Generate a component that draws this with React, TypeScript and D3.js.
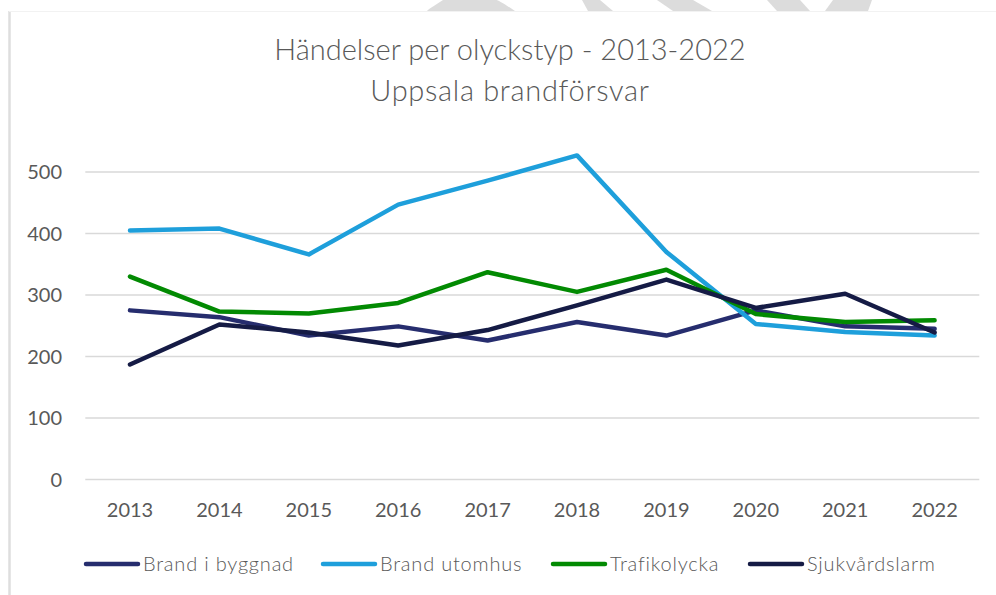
import React from "react";
import * as d3 from "d3";

const years = ["2013", "2014", "2015", "2016", "2017", "2018", "2019", "2020", "2021", "2022"];
const brandIByggnad = [275, 264, 234, 249, 226, 256, 234, 275, 249, 245];
const brandUtomhus = [405, 408, 366, 447, 486, 527, 370, 253, 240, 234];
const trafikolycka = [330, 273, 270, 287, 337, 305, 341, 269, 256, 259];
const sjukvardslarm = [187, 252, 239, 218, 243, 283, 325, 279, 302, 239];
const yTicks = [0, 100, 200, 300, 400, 500];

const seriesNames = ["Brand i byggnad", "Brand utomhus", "Trafikolycka", "Sjukvårdslarm"];
const seriesColors = ["#262D6E", "#1E9FDB", "#028A02", "#151B45"];
const seriesValues = [brandIByggnad, brandUtomhus, trafikolycka, sjukvardslarm];

const W = 996;
const H = 595;
const FONT = "Lato, 'Open Sans', sans-serif";
const TEXT = "#595959";

export default function App() {
  const x = d3.scaleBand<string>().domain(years).range([85.3, 979.3]);
  const y = d3.scaleLinear().domain([0, 500]).range([479.5, 172]);
  const line = d3
    .line<number>()
    .x((_, i) => (x(years[i]) as number) + x.bandwidth() / 2)
    .y((d) => y(d));

  const legendX = [84, 321, 551, 748];

  const deco = [
    "M427,11 L515,11 C505,4 497,0 497,0 L443,0 C437,4 430,8 427,11 Z",
    "M582,0 L600,0 L613,11 L588,11 Z",
    "M657,0 L693,0 L712,11 L673,11 Z",
    "M767,0 L800,0 L810,11 L777,11 Z",
    "M833,0 L872,0 L868,11 L825,11 Z",
  ];

  return (
    <svg
      width={W}
      height={H}
      style={{ position: "absolute", left: 0, top: 0, background: "#fff" }}
      fontFamily={FONT}
    >
      {deco.map((d, i) => (
        <path key={i} d={d} fill="#dcdcdc" />
      ))}
      <line x1={9.5} x2={9.5} y1={11} y2={H} stroke="#dedede" strokeWidth={2.5} />
      <line x1={9} x2={W} y1={11.5} y2={11.5} stroke="#f2f2f2" strokeWidth={1} />

      <text x={510} y={60} textAnchor="middle" fontSize={29} fontWeight={300} fill={TEXT}>
        Händelser per olyckstyp - 2013-2022
      </text>
      <text
        x={510}
        y={101}
        textAnchor="middle"
        fontSize={29}
        fontWeight={300}
        letterSpacing={0.7}
        fill={TEXT}
      >
        Uppsala brandförsvar
      </text>

      {yTicks.map((t) => (
        <g key={t}>
          <line x1={85.3} x2={979.3} y1={y(t)} y2={y(t)} stroke="#d9d9d9" strokeWidth={1.5} />
          <text x={62} y={y(t)} dy="0.35em" textAnchor="end" fontSize={20} fill={TEXT}>
            {t}
          </text>
        </g>
      ))}

      {years.map((yr) => (
        <text
          key={yr}
          x={(x(yr) as number) + x.bandwidth() / 2}
          y={517}
          textAnchor="middle"
          fontSize={20}
          fill={TEXT}
        >
          {yr}
        </text>
      ))}

      {seriesValues.map((vals, i) => (
        <path
          key={seriesNames[i]}
          d={line(vals) as string}
          fill="none"
          stroke={seriesColors[i]}
          strokeWidth={4.5}
          strokeLinecap="round"
          strokeLinejoin="round"
        />
      ))}

      {seriesNames.map((name, i) => (
        <g key={name}>
          <line
            x1={legendX[i] + 2}
            x2={legendX[i] + 54}
            y1={564}
            y2={564}
            stroke={seriesColors[i]}
            strokeWidth={4.5}
            strokeLinecap="round"
          />
          <text
            x={legendX[i] + 59}
            y={564}
            dy="0.35em"
            fontSize={20}
            fontWeight={300}
            letterSpacing={0.8}
            fill={TEXT}
          >
            {name}
          </text>
        </g>
      ))}
    </svg>
  );
}
